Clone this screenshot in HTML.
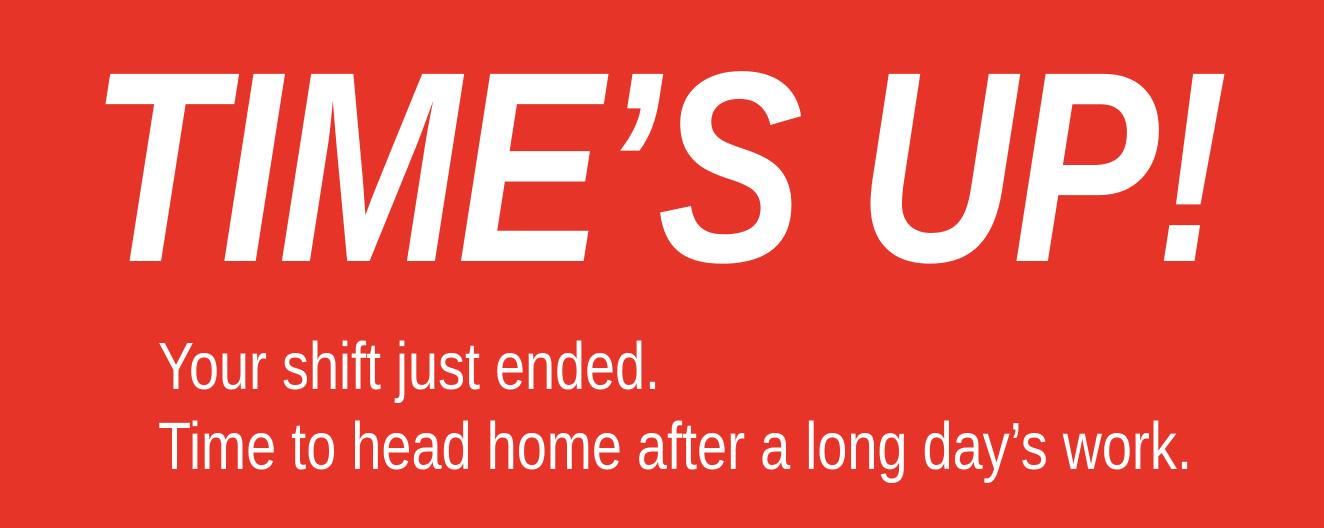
<!DOCTYPE html>
<html><head><meta charset="utf-8"><style>
html,body{margin:0;padding:0}
body{width:1324px;height:528px;background:#E63428;position:relative;overflow:hidden;font-family:"Liberation Sans",sans-serif;color:#fff}
.t{position:absolute;white-space:nowrap;transform-origin:0 0;line-height:1}
#head{font-weight:bold;font-style:italic;font-size:272px;letter-spacing:-4px}
.sub{font-size:67px}
</style></head><body>
<div id="head" class="t" data-w="1135" data-l="90" data-cap="72">TIME’S UP!</div>
<div id="s1" class="t sub" data-w="502" data-l="158" data-cap="343">Your shift just ended.</div>
<div id="s2" class="t sub" data-w="1034" data-l="158" data-cap="423">Time to head home after a long day’s work.</div>
<script>
document.querySelectorAll('.t').forEach(function(el){
  var w=el.getBoundingClientRect().width;
  var fs=parseFloat(getComputedStyle(el).fontSize);
  var target=+el.dataset.w;
  var top=+el.dataset.cap - fs*0.152;
  el.style.left=el.dataset.l+'px';
  el.style.top=top+'px';
  el.style.transform='scaleX('+(target/w)+')';
});
</script>
</body></html>
